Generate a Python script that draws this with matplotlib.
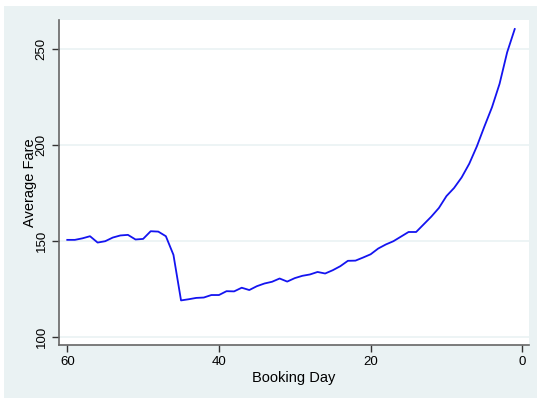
import numpy as np
import matplotlib.pyplot as plt
from matplotlib.patches import Rectangle

# booking day (days before departure) and average fare
days = np.arange(60, 0, -1)
fare = [150.7, 150.7, 151.5, 152.6, 149.3, 150.0, 151.9, 153.0, 153.3, 150.9,
        151.2, 155.2, 155.0, 152.6, 142.9, 119.2, 119.8, 120.5, 120.7, 122.0,
        122.0, 124.0, 123.9, 125.8, 124.6, 126.6, 128.0, 128.9, 130.6, 129.0,
        130.8, 132.0, 132.7, 134.0, 133.2, 134.9, 137.0, 139.8, 139.9, 141.5,
        143.2, 146.2, 148.3, 150.0, 152.4, 154.8, 154.8, 158.8, 162.8, 167.3,
        173.5, 177.7, 183.2, 190.3, 199.3, 209.7, 219.7, 231.9, 248.3, 260.4]
xticks = [60, 40, 20, 0]
yticks = [100, 150, 200, 250]

plt.rcParams['font.family'] = ['Liberation Sans', 'DejaVu Sans']

fig = plt.figure(figsize=(5.37, 3.99), dpi=100, facecolor='white')
# Stata style light background region
bg = Rectangle((4 / 537, 1 / 399), 533 / 537, 392 / 399,
               transform=fig.transFigure, facecolor='#EAF2F3',
               edgecolor='none', zorder=-10)
fig.add_artist(bg)
ax = fig.add_axes([58.7 / 537, 54 / 399, 470.6 / 537, 325 / 399])
ax.set_zorder(5)
ax.set_facecolor('white')

ax.plot(days, fare, color='#1414f0', lw=1.3)

ax.set_xlim(61.13, -0.92)
ax.set_ylim(96.0, 265.1)
ax.set_xticks(xticks)
ax.set_yticks(yticks)
ax.grid(axis='y', color='#EAF2F3', lw=1.2)
ax.set_axisbelow(True)
for s in ['top', 'right']:
    ax.spines[s].set_visible(False)
for s in ['left', 'bottom']:
    ax.spines[s].set_color('#666666')
    ax.spines[s].set_linewidth(1.2)
ax.tick_params(length=5, width=1, color='#333333', labelsize=9.5, pad=3)
plt.setp(ax.get_yticklabels(), rotation=90, va='center')

ax.set_xlabel('Booking Day', fontsize=10.5, labelpad=2)
ax.set_ylabel('Average Fare', fontsize=10.5, labelpad=-1)

fig.savefig('out.png', dpi=100, facecolor='white')
